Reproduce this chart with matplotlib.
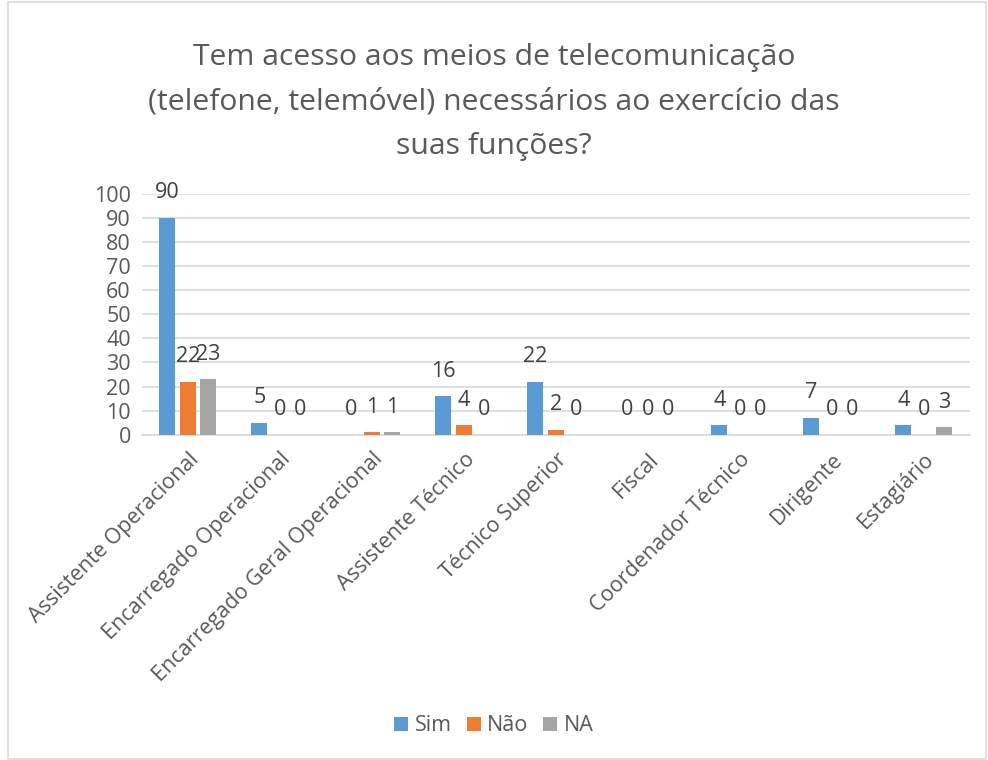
import numpy as np
import matplotlib.pyplot as plt
from matplotlib.patches import Rectangle

plt.rcParams['font.family'] = ['Open Sans', 'DejaVu Sans']

categorias = ['Assistente Operacional', 'Encarregado Operacional',
              'Encarregado Geral Operacional', 'Assistente Técnico',
              'Técnico Superior', 'Fiscal', 'Coordenador Técnico',
              'Dirigente', 'Estagiário']
sim = [90, 5, 0, 16, 22, 0, 4, 7, 4]
nao = [22, 0, 1, 4, 2, 0, 0, 0, 0]
na = [23, 0, 1, 0, 0, 0, 0, 0, 3]

series = [('Sim', sim, '#5B9BD5'), ('Não', nao, '#ED7D31'), ('NA', na, '#A5A5A5')]
titulo = ('Tem acesso aos meios de telecomunicação\n'
          '(telefone, telemóvel) necessários ao exercício das\n'
          'suas funções?')

fig = plt.figure(figsize=(9.88, 7.6), dpi=100)
ax = fig.add_axes([0.1437, 0.428, 0.838, 0.317])

x = np.arange(len(categorias))
w = 0.174
passo = 0.223
txt = '#404040'
fs = 15.5
for i, (nome, vals, cor) in enumerate(series):
    pos = x + (i - 1) * passo
    ax.bar(pos, vals, width=w, color=cor, label=nome, zorder=3)
    for p, v in zip(pos, vals):
        ax.annotate(str(v), (p, v), xytext=(0, 18), textcoords='offset points',
                    ha='center', va='center', fontsize=fs, color=txt)

ax.set_xlim(-0.5, len(categorias) - 0.5)
ax.set_ylim(0, 100)
ax.set_yticks(range(0, 101, 10))
ax.yaxis.grid(True, color='#D9D9D9', lw=1.2, zorder=0)
for s in ['top', 'right', 'left']:
    ax.spines[s].set_visible(False)
ax.spines['bottom'].set_color('#D9D9D9')
ax.spines['bottom'].set_linewidth(1.2)
ax.tick_params(axis='both', length=0, labelsize=fs, labelcolor='#595959')
ax.tick_params(axis='y', pad=8)
ax.set_xticks(x)
ax.set_xticklabels(categorias, rotation=45, ha='right', rotation_mode='anchor')
ax.tick_params(axis='x', pad=10)

fig.text(0.5, 0.866, titulo, ha='center', va='center', fontsize=21.7,
         color='#595959', linespacing=1.72)

fig.legend(loc='center', bbox_to_anchor=(0.5, 0.045), ncol=3, frameon=False,
           fontsize=fs, handlelength=0.65, handleheight=0.65, handletextpad=0.3,
           columnspacing=0.7, labelcolor='#595959')

fig.patches.append(Rectangle((8 / 988, 1 / 760), 978 / 988, 757 / 760,
                             transform=fig.transFigure, fill=False,
                             edgecolor='#D9D9D9', lw=1.2))

fig.savefig('out.png', dpi=100)
